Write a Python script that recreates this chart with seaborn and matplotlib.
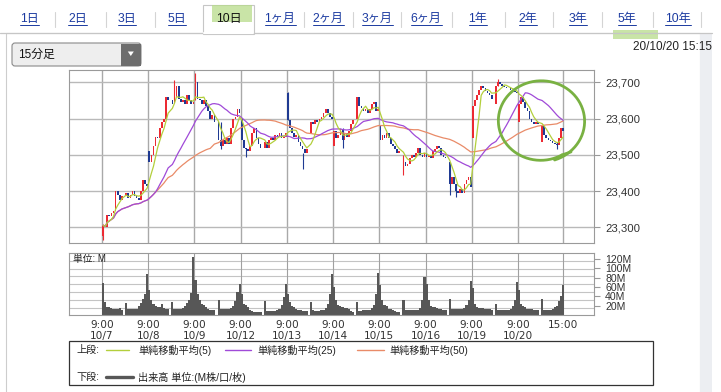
import numpy as np
import pandas as pd
import seaborn as sns
import matplotlib.pyplot as plt
from matplotlib.patches import Rectangle, FancyBboxPatch, Polygon

sns.set_theme(style="white")
plt.rcParams['font.family'] = ['Liberation Sans', 'Noto Sans CJK JP', 'DejaVu Sans']

W, H = 721, 392

# ---- values (15 minute bars, 10 trading days) ----
days = ['10/7', '10/8', '10/9', '10/12', '10/13', '10/14', '10/15', '10/16', '10/19', '10/20']

# open of the 9:00 bar and of the 12:30 bar of each day
day_open = [23275, 23510, 23650, 23600, 23670, 23525, 23580, 23505, 23545, 23590]
pm_open = [23385, 23650, 23590, 23520, 23560, 23600, 23455, 23480, 23640, 23535]

# closes: 10 morning bars, then 11 afternoon bars (12:30 .. 15:00)
close_1007 = [23305, 23300, 23335, 23330, 23340, 23345, 23400, 23390, 23375, 23385,
              23395, 23380, 23390, 23400, 23385, 23380, 23375, 23400, 23430, 23420, 23415]
close_1008 = [23480, 23500, 23525, 23550, 23545, 23575, 23590, 23600, 23660, 23650,
              23640, 23660, 23690, 23655, 23645, 23650, 23640, 23665, 23650, 23640, 23645]
close_1009 = [23700, 23655, 23650, 23640, 23650, 23635, 23620, 23600, 23610, 23590,
              23540, 23525, 23540, 23530, 23545, 23530, 23575, 23600, 23605, 23625, 23615]
close_1012 = [23540, 23520, 23515, 23510, 23525, 23560, 23575, 23545, 23530, 23520,
              23535, 23520, 23540, 23545, 23540, 23555, 23550, 23560, 23545, 23550, 23560]
close_1013 = [23595, 23575, 23560, 23550, 23555, 23535, 23525, 23515, 23505, 23515,
              23590, 23585, 23595, 23590, 23600, 23605, 23615, 23625, 23615, 23605, 23600]
close_1014 = [23565, 23545, 23555, 23570, 23540, 23560, 23550, 23565, 23585, 23595,
              23660, 23635, 23630, 23620, 23625, 23615, 23625, 23640, 23645, 23620, 23625]
close_1015 = [23540, 23555, 23545, 23560, 23545, 23530, 23525, 23515, 23505, 23510,
              23480, 23470, 23475, 23490, 23500, 23495, 23505, 23520, 23500, 23495, 23505]
close_1016 = [23495, 23500, 23490, 23510, 23515, 23525, 23520, 23500, 23495, 23490,
              23420, 23440, 23420, 23400, 23395, 23405, 23395, 23420, 23430, 23440, 23410]
close_1019 = [23635, 23650, 23665, 23680, 23690, 23685, 23675, 23670, 23665, 23655,
              23690, 23700, 23695, 23690, 23688, 23685, 23683, 23680, 23676, 23672, 23670]
close_1020 = [23640, 23660, 23645, 23630, 23620, 23600, 23590, 23585, 23590, 23585,
              23580, 23555, 23545, 23540, 23538, 23532, 23530, 23528, 23545, 23575, 23567]
closes = [close_1007, close_1008, close_1009, close_1012, close_1013,
          close_1014, close_1015, close_1016, close_1019, close_1020]

# volume (M shares) per bar
vol_1007 = [69, 29, 18, 17, 15, 14, 13, 14, 15, 11, 27, 13, 13, 13, 13, 14, 20, 26, 34, 45, 88]
vol_1008 = [53, 32, 25, 20, 18, 18, 23, 15, 14, 13, 28, 14, 13, 13, 14, 16, 20, 26, 32, 48, 123]
vol_1009 = [74, 46, 32, 25, 22, 18, 14, 12, 11, 11, 32, 13, 13, 13, 13, 14, 16, 20, 30, 50, 67]
vol_1012 = [46, 25, 22, 18, 12, 9, 8, 8, 8, 8, 31, 10, 10, 10, 10, 10, 11, 14, 22, 39, 67]
vol_1013 = [46, 28, 20, 18, 14, 12, 11, 10, 10, 10, 29, 11, 10, 10, 10, 11, 12, 16, 25, 45, 87]
vol_1014 = [60, 32, 22, 20, 18, 16, 15, 14, 10, 8, 29, 10, 10, 11, 11, 11, 12, 16, 22, 46, 90]
vol_1015 = [64, 32, 22, 20, 14, 13, 12, 10, 8, 8, 32, 11, 11, 11, 11, 11, 11, 12, 16, 32, 81]
vol_1016 = [67, 32, 20, 18, 17, 15, 14, 13, 12, 11, 34, 13, 13, 13, 13, 13, 13, 16, 22, 32, 73]
vol_1019 = [57, 25, 17, 15, 15, 15, 14, 13, 13, 12, 23, 11, 11, 11, 11, 11, 12, 14, 20, 32, 70]
vol_1020 = [53, 25, 20, 18, 13, 13, 13, 12, 12, 12, 34, 11, 11, 11, 11, 13, 17, 20, 30, 40, 64]
volumes = [vol_1007, vol_1008, vol_1009, vol_1012, vol_1013,
           vol_1014, vol_1015, vol_1016, vol_1019, vol_1020]

# visible wicks: day index, bar index, low, high
wick_day = [0, 1, 2, 2, 3, 4, 4, 5, 6, 7, 7, 8, 9]
wick_bar = [0, 11, 0, 11, 2, 0, 7, 4, 10, 10, 13, 11, 17]
wick_low = [23265, 23655, 23650, 23515, 23495, 23595, 23462, 23520, 23445, 23390, 23384, 23690, 23515]
wick_high = [23310, 23705, 23725, 23590, 23520, 23672, 23505, 23575, 23500, 23480, 23420, 23708, 23535]

price_ticks = [23300, 23400, 23500, 23600, 23700]
vol_ticks = [20, 40, 60, 80, 100, 120]

tabs = ['1日', '2日', '3日', '5日', '10日', '1ヶ月', '2ヶ月', '3ヶ月', '6ヶ月',
        '1年', '2年', '3年', '5年', '10年']
selected_tab = '10日'

RED = '#ec2a33'
BLUE = '#1f3a92'
C_MA5 = '#b3cf3c'
C_MA25 = '#a04ad8'
C_MA50 = '#e98b68'
C_VOL = '#575757'

# ---- build the bar table ----
rows = []
for d, (cl, vo) in enumerate(zip(closes, volumes)):
    prev = None
    for k, (c, v) in enumerate(zip(cl, vo)):
        slot = k if k < 10 else k + 1          # one empty slot for the lunch break
        if k == 0:
            o = day_open[d]
        elif k == 10:
            o = pm_open[d]
        else:
            o = prev
        rows.append(dict(day=d, bar=k, x=22 * d + slot + 0.5, open=o, close=c, vol=v))
        prev = c
df = pd.DataFrame(rows)
df['ma5'] = df['close'].rolling(5, min_periods=1).mean()
df['ma25'] = df['close'].rolling(25, min_periods=1).mean()
df['ma50'] = df['close'].rolling(50, min_periods=1).mean()

grid_x = [22 * d for d in range(len(days))] + [22 * 9 + 21.5]
grid_lab = ['9:00\n' + s for s in days] + ['15:00']
XL = (-15.7, 234.2)

fig = plt.figure(figsize=(W / 100, H / 100), dpi=100)
fig.patch.set_facecolor('white')


def px_axes(x0, y0, x1, y1, **kw):
    return fig.add_axes([x0 / W, 1 - y1 / H, (x1 - x0) / W, (y1 - y0) / H], **kw)


# background / page decorations in pixel coordinates
bg = px_axes(0, 0, W, H)
bg.set_xlim(0, W)
bg.set_ylim(H, 0)
bg.axis('off')

bg.add_patch(Rectangle((5.5, 33), 694, 362, fc='white', ec='#cdcdcd', lw=0.8))
bg.add_patch(Rectangle((700, 33.5), 12, 360, fc='#eceef2', ec='none'))
bg.plot([0, 712], [33, 33], color='#c6c6c6', lw=0.9)

tab_x = [29.5, 77.5, 127, 177, 229, 280, 328, 377, 426, 478, 528, 578, 627, 678]
sep_x = [55, 106, 155, 304, 353, 401, 452, 505, 553, 602, 653, 701]
for sx in sep_x:
    bg.plot([sx, sx], [12, 27], color='#d4d4d4', lw=0.8)
bg.add_patch(Rectangle((203, 5), 51, 28.5, fc='white', ec='#c6c6c6', lw=0.8))
bg.plot([203.6, 253.4], [33, 33], color='white', lw=1.5)
bg.add_patch(Rectangle((212, 5), 40, 17, fc='#b7db8a', alpha=0.75, lw=0))
bg.add_patch(Rectangle((613, 30), 45, 9, fc='#b7db8a', alpha=0.75, lw=0))

tab_texts = []
for lab, tx in zip(tabs, tab_x):
    sel = lab == selected_tab
    t = bg.text(tx, 19, lab, ha='center', va='center', fontsize=8.7,
                color='#111111' if sel else '#1b3aa0')
    if not sel:
        tab_texts.append(t)

bg.add_patch(FancyBboxPatch((12, 43), 129, 23, boxstyle='round,pad=0,rounding_size=3',
                            fc='#eeeeee', ec='#8a8a8a', lw=0.8))
bg.add_patch(Rectangle((121, 43.5), 19.6, 22, fc='#6d6d6d', lw=0))
bg.add_patch(Polygon([(127.8, 51.5), (133.8, 51.5), (130.8, 56)], fc='white', lw=0))
bg.text(18, 54.5, '15分足', ha='left', va='center', fontsize=8.5, color='#111111')
bg.text(712, 47, '20/10/20 15:15', ha='right', va='center', fontsize=8.5, color='#222222')

# legend box
bg.add_patch(Rectangle((69, 341), 584, 44, fc='white', ec='#333333', lw=0.9))
leg_font = 7.3
bg.text(76, 350, '上段:', ha='left', va='center', fontsize=leg_font, color='#222222')
bg.plot([106, 129], [350, 350], color=C_MA5, lw=1.0)
bg.text(138, 350, '単純移動平均(5)', ha='left', va='center', fontsize=leg_font, color='#222222')
bg.plot([225, 251], [350, 350], color=C_MA25, lw=1.0)
bg.text(257, 350, '単純移動平均(25)', ha='left', va='center', fontsize=leg_font, color='#222222')
bg.plot([357, 384], [350, 350], color=C_MA50, lw=1.0)
bg.text(389, 350, '単純移動平均(50)', ha='left', va='center', fontsize=leg_font, color='#222222')
bg.text(76, 377, '下段:', ha='left', va='center', fontsize=leg_font, color='#222222')
bg.plot([106, 133], [377, 377], color=C_VOL, lw=2.4)
bg.text(138, 377, '出来高 単位:(M株/口/枚)', ha='left', va='center', fontsize=leg_font, color='#222222')

# ---- price panel ----
axp = px_axes(69, 70, 594, 243)
axp.set_facecolor('white')
axp.set_xlim(*XL)
axp.set_ylim(23256.7, 23733.9)
for gx in grid_x:
    axp.axvline(gx, color='#a9a9a9', lw=1.0, zorder=0)
for p in price_ticks:
    axp.axhline(p, color='#b9b9b9', lw=1.0, zorder=0)

up = df['close'] >= df['open']
body_up = (df.loc[up, 'close'] - df.loc[up, 'open']).clip(lower=2)
axp.bar(df.loc[up, 'x'], body_up, bottom=df.loc[up, 'open'], width=0.8, color=RED, lw=0, zorder=2)
dn = ~up
body_dn = (df.loc[dn, 'open'] - df.loc[dn, 'close']).clip(lower=2)
axp.bar(df.loc[dn, 'x'], body_dn, bottom=df.loc[dn, 'close'], width=0.8, color=BLUE, lw=0, zorder=2)

for d, b, lo, hi in zip(wick_day, wick_bar, wick_low, wick_high):
    r = df[(df['day'] == d) & (df['bar'] == b)].iloc[0]
    axp.vlines(r['x'], lo, hi, color=RED if r['close'] >= r['open'] else BLUE, lw=0.8, zorder=2)

sns.lineplot(data=df, x='x', y='ma50', color=C_MA50, lw=0.9, ax=axp, zorder=3)
sns.lineplot(data=df, x='x', y='ma25', color=C_MA25, lw=0.9, ax=axp, zorder=3)
sns.lineplot(data=df, x='x', y='ma5', color=C_MA5, lw=0.9, ax=axp, zorder=3)

axp.set_xlabel('')
axp.set_ylabel('')
axp.set_xticks([])
axp.yaxis.tick_right()
axp.set_yticks(price_ticks)
axp.set_yticklabels([f'{p:,}' for p in price_ticks])
axp.tick_params(axis='y', length=4, width=0.8, color='#999999', pad=4,
                labelsize=8.2, labelcolor='#333333', right=True)
for sp in axp.spines.values():
    sp.set_color('#9a9a9a')
    sp.set_linewidth(0.8)

# ---- volume panel ----
axv = px_axes(69, 253, 594, 315.3)
axv.set_facecolor('white')
axv.set_xlim(*XL)
vtop = 132
axv.set_ylim(0, vtop)
for k in range(1, 8):
    axv.axhline(vtop * k / 8, color='#c4c4c4', lw=0.8, zorder=0)
for gx in grid_x:
    axv.axvline(gx, color='#a0a0a0', lw=0.8, zorder=0)
axv.bar(df['x'], df['vol'], width=1.0, color=C_VOL, lw=0, zorder=2)
axv.text(0.008, 0.9, '単位: M', transform=axv.transAxes, ha='left', va='center',
         fontsize=7, color='#222222', zorder=3)

axv.yaxis.tick_right()
axv.set_yticks(vol_ticks)
axv.set_yticklabels([f'{v}M' for v in vol_ticks])
axv.tick_params(axis='y', length=4, width=0.8, color='#999999', pad=4,
                labelsize=7.6, labelcolor='#333333', right=True)
axv.set_xticks(grid_x)
axv.set_xticklabels(grid_lab, fontsize=7.6, color='#333333', linespacing=1.15,
                    family='DejaVu Sans')
axv.tick_params(axis='x', length=0, pad=3.5)
for sp in axv.spines.values():
    sp.set_color('#9a9a9a')
    sp.set_linewidth(0.8)

# ---- hand drawn green circle on top ----
top = px_axes(0, 0, W, H, zorder=10)
top.set_xlim(0, W)
top.set_ylim(H, 0)
top.axis('off')
top.patch.set_alpha(0)
t = np.radians(np.linspace(-72, -72 + 372, 240))
shrink = np.linspace(1.0, 0.955, t.size)
cx, cy, rx, ry = 541, 121, 44, 41
ex = cx + rx * shrink * np.cos(t)
ey = cy - ry * shrink * np.sin(t)
top.plot(ex, ey, color='#79b142', lw=2.0, solid_capstyle='round')
top.plot([ex[-1], ex[-1] + 9], [ey[-1], ey[-1] - 3], color='#79b142', lw=2.0,
         solid_capstyle='round')

# underline the tab links
fig.canvas.draw()
for t_ in tab_texts:
    bb = t_.get_window_extent()
    yy = H - bb.y0 - 0.5
    bg.plot([bb.x0, bb.x1], [yy, yy], color='#1b3aa0', lw=0.7)

fig.savefig('out.png', dpi=100)
